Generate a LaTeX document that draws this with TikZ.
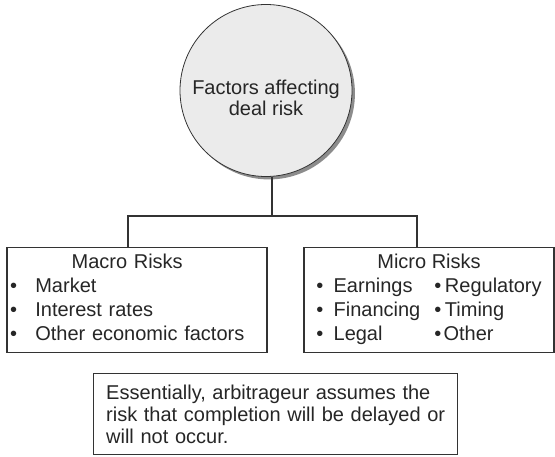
\documentclass[tikz,border=0pt]{standalone}
\usepackage{fontspec}
\setmainfont{Liberation Sans}
\usetikzlibrary{shapes,positioning,shadows}

\newcommand{\bul}[2]{\makebox[#1][l]{•}#2}

\begin{document}
\begin{tikzpicture}[
		x=0.75pt,
		y=-0.75pt,
		font=\fontsize{15}{18}\selectfont,
		every node/.style={text=black!85},
		line/.style={
			draw=black!80,
			line width=0.8pt
		},
		hub/.style={
			circle,
			draw=black!80,
			line width=0.6pt,
			fill=black!8,
			minimum size=129pt,
			inner sep=0pt,
			drop shadow={shadow xshift=2.2pt,shadow yshift=-2.2pt,fill=black!45,opacity=1}
		},
		hubtext/.style={
			align=center,
			inner sep=0pt,
			font=\fontsize{15}{15.6}\selectfont
		},
		riskbox/.style={
			draw=black!80,
			line width=0.8pt,
			minimum height=76.5pt
		},
		notebox/.style={
			draw=black!80,
			line width=0.8pt,
			align=left,
			text width=254pt,
			inner xsep=9.75pt,
			inner ysep=8.6pt,
			font=\fontsize{15}{16.5}\selectfont
		}
		]
		\useasboundingbox (0,0) rectangle (555,456);
		
		\node[hub] (hub) at (266,90.5) {};
		\node[hubtext] (hubtext) at ([yshift=-5.4pt]hub.center) {Factors affecting\\deal risk};
		
		% Risk boxes
		\node[riskbox,minimum width=195pt,text width=190.5pt,inner xsep=2.25pt,align=left] (macro) at (137,300) {%
			\begin{tabular}{@{}l@{}}
				\multicolumn{1}{@{}c@{}}{Macro Risks}\\
				\bul{19pt}{Market}\\
				\bul{19pt}{Interest rates}\\
				\bul{19pt}{Other economic factors}
			\end{tabular}};
		\node[riskbox,minimum width=187.5pt] (micro) at (429,300) {%
			\begin{tabular}{@{}p{88.5pt}@{}l@{}}
				\multicolumn{2}{@{}c@{}}{Micro Risks}\\
				\bul{13pt}{Earnings} & \bul{8pt}{Regulatory}\\
				\bul{13pt}{Financing} & \bul{8pt}{Timing}\\
				\bul{13pt}{Legal} & \bul{7pt}{Other}
			\end{tabular}};
		
		\node[notebox] (note) at (275.5,414) {\mbox{Essentially, arbitrageur assumes the}\\\mbox{risk that completion will be delayed or}\\\mbox{will not occur.}};
		
		% Branches
		\coordinate (split) at (272,216);
		\coordinate (ljoin) at (128,216);
		\coordinate (rjoin) at (417,216);
		\draw[line] (hub.south -| split) -- (split);
		\draw[line] (ljoin |- macro.north) -- (ljoin) -- (rjoin) -- (rjoin |- micro.north);
		
\end{tikzpicture}
\end{document}
